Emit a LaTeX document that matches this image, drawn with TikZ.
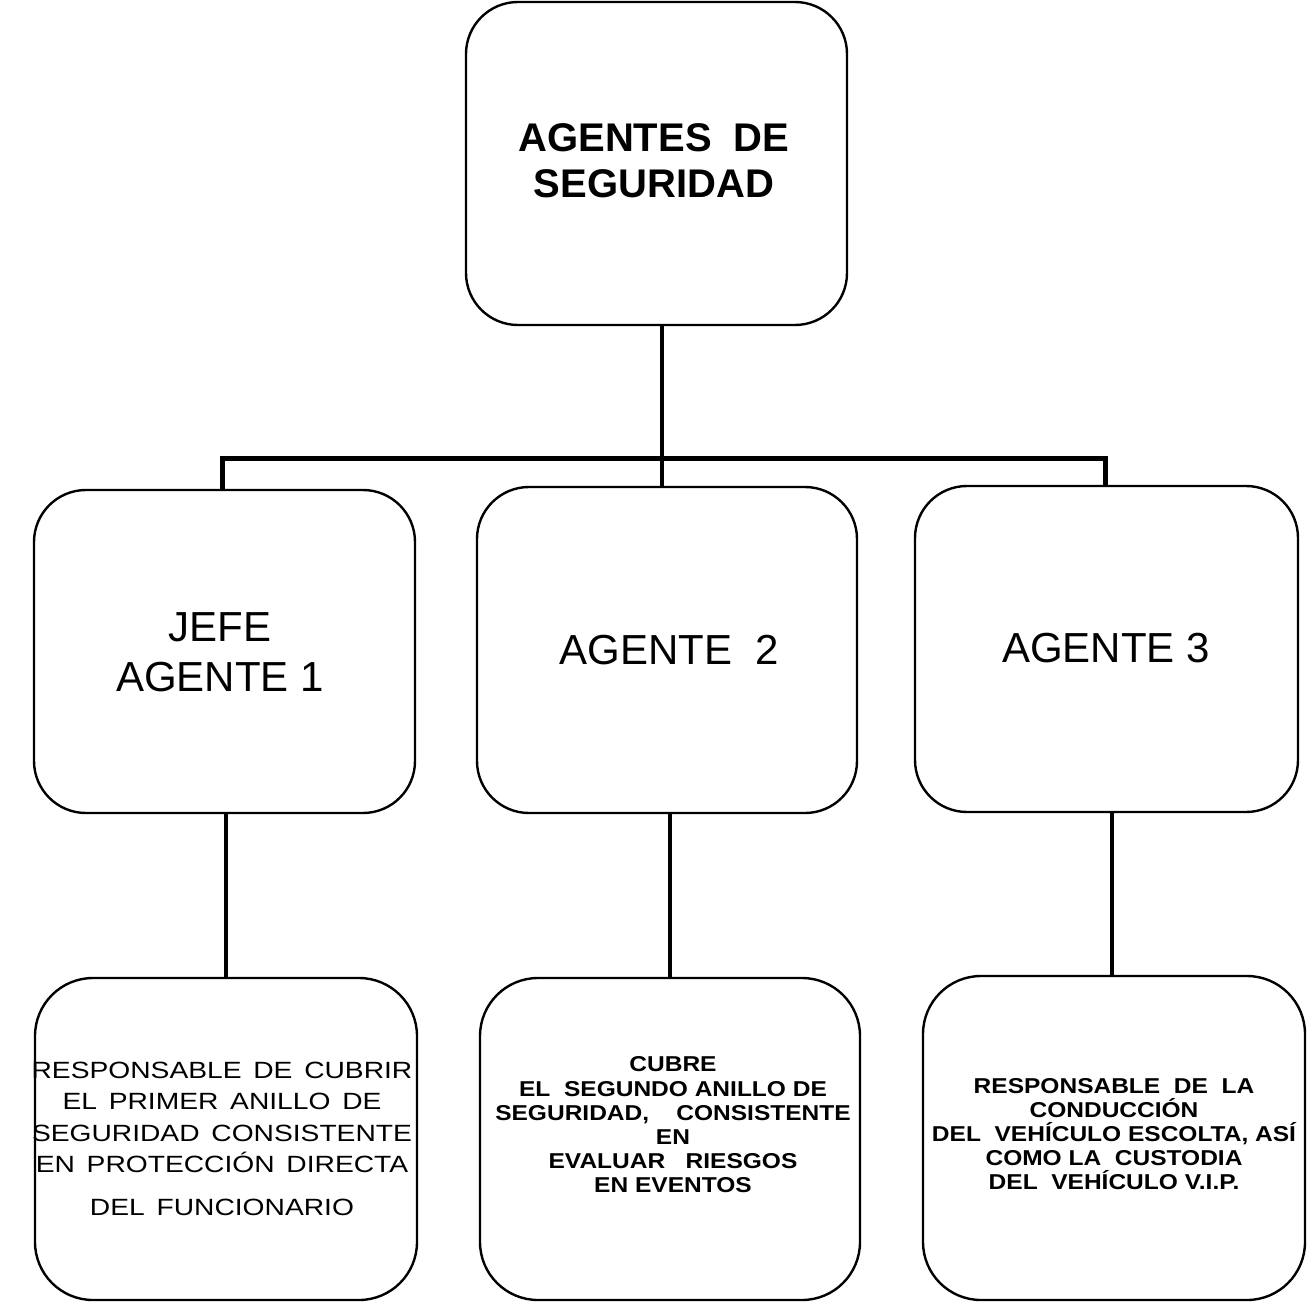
\documentclass[tikz,border=0pt]{standalone}
\usepackage{fontspec}
\setmainfont{Liberation Sans}
\newfontfamily\botleftfont[FakeStretch=1.2,WordSpace=1.5]{Liberation Sans}
\newfontfamily\botboldfont[FakeStretch=1.14]{Liberation Sans}
\begin{document}
\begin{tikzpicture}[x=1pt,y=-1pt,
  box/.style={draw, line width=2.4pt, rounded corners=52pt, inner sep=0pt},
  boxb/.style={box, rounded corners=58pt},
  conn/.style={draw, line width=4pt},
  txt/.style={inner sep=0pt, align=center},
]
\useasboundingbox[fill=white] (0,0) rectangle (1308,1305);

% boxes
\node[box, minimum width=381pt, minimum height=323pt] (top)  at (656.5,163.5) {};
\node[box, minimum width=381pt, minimum height=323pt] (mid1) at (224.5,651.5) {};
\node[box, minimum width=380pt, minimum height=326pt] (mid2) at (667,650) {};
\node[box, minimum width=383pt, minimum height=326pt] (mid3) at (1106.5,649) {};
\node[boxb, minimum width=382pt, minimum height=322pt] (bot1) at (226,1139) {};
\node[boxb, minimum width=380pt, minimum height=322pt] (bot2) at (670,1139) {};
\node[boxb, minimum width=382pt, minimum height=324pt] (bot3) at (1114,1138) {};

% texts
\node[txt, font=\bfseries\fontsize{40}{46}\selectfont] (ttop) at (654,160.5)
  {AGENTES\ \ DE\\SEGURIDAD};
\node[txt, font=\fontsize{42}{50}\selectfont] (tmid1) at (220,652) {JEFE\\AGENTE 1};
\node[txt, font=\fontsize{42}{50}\selectfont] (tmid2) at (669,650) {AGENTE\ \ 2};
\node[txt, font=\fontsize{42}{50}\selectfont] (tmid3) at (1106,648.5) {AGENTE 3};

\node[txt, font=\botleftfont\fontsize{23.5}{31.5}\selectfont] (tbot1) at (222,1138.5)
  {RESPONSABLE DE CUBRIR\\EL PRIMER ANILLO DE\\SEGURIDAD CONSISTENTE\\EN PROTECCIÓN DIRECTA\\[11pt]DEL FUNCIONARIO};
\node[txt, font=\botboldfont\bfseries\fontsize{21.5}{24.2}\selectfont] (tbot2) at (673,1125)
  {CUBRE\\EL\ \ SEGUNDO ANILLO DE\\SEGURIDAD,\ \ \ \ CONSISTENTE\\EN\\EVALUAR\ \ \ RIESGOS\\EN EVENTOS};
\node[txt, font=\botboldfont\bfseries\fontsize{21.5}{23.8}\selectfont] (tbot3) at (1114,1134)
  {RESPONSABLE\ \ DE\ \ LA\\CONDUCCIÓN\\DEL\ \ VEHÍCULO ESCOLTA, ASÍ\\COMO LA\ \ CUSTODIA\\DEL\ \ VEHÍCULO V.I.P.};

% connector geometry
\coordinate (jt) at (662,458);
\coordinate (barL) at (222,458);
\coordinate (barR) at (1105,458);
\coordinate (c1) at (226,900);
\coordinate (c2) at (670,900);
\coordinate (c3) at (1112,900);

\draw[conn, line width=3.5pt] (top.south -| jt) -- (mid2.north -| jt);
\draw[conn, line width=5pt, line join=miter] (mid1.north -| barL) -- (barL) -- (barR) -- (mid3.north -| barR);
\draw[conn, line width=4.5pt] (mid1.south -| c1) -- (bot1.north -| c1);
\draw[conn, line width=4.5pt] (mid2.south -| c2) -- (bot2.north -| c2);
\draw[conn, line width=4.5pt] (mid3.south -| c3) -- (bot3.north -| c3);
\end{tikzpicture}
\end{document}
